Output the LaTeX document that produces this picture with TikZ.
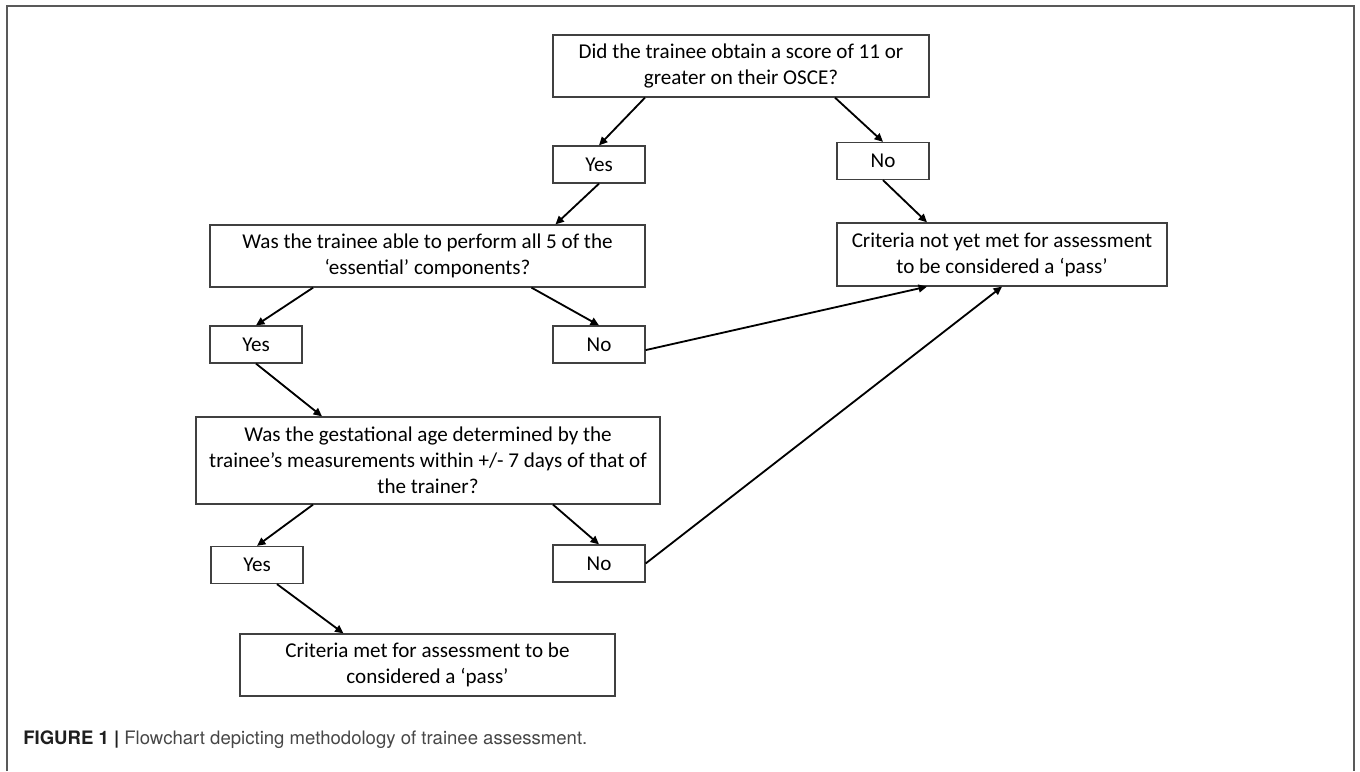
\documentclass[tikz,border=0pt]{standalone}
\usepackage{fontspec}
\setmainfont{Carlito}
\newfontfamily\capfont{TeX Gyre Heros}
\usetikzlibrary{arrows.meta}

\begin{document}
\begin{tikzpicture}[
  box/.style={draw=black!75, line width=0.9pt, align=center, inner sep=0pt,
    font=\fontsize{15}{18.5}\selectfont},
  answer/.style={box, minimum width=2.3cm, minimum height=0.925cm},
  arrow/.style={-{Triangle[length=6pt, width=5.5pt]}, line width=1.3pt}
]
\useasboundingbox (0,0) rectangle (34,19.275);

% Outer frame
\draw[black!65, line width=1.2pt] (0.175,0) |- (33.85,19.125) -- (33.85,0);

% Define nodes
\node[box, minimum width=9.4cm, minimum height=1.55cm] (q1) at (18.525, 17.625)
  {Did the trainee obtain a score of 11 or\\greater on their OSCE?};
\node[answer] (y1) at (14.975, 15.1625) {Yes};
\node[answer] (n1) at (22.075, 15.25) {No};
\node[box, minimum width=10.875cm, minimum height=1.55cm] (q2) at (10.6875, 12.875)
  {Was the trainee able to perform all 5 of the\\‘essential’ components?};
\node[box, minimum width=8.25cm, minimum height=1.575cm] (fail) at (25.05, 12.9125)
  {Criteria not yet met for assessment\\to be considered a ‘pass’};
\node[answer] (y2) at (6.4, 10.6625) {Yes};
\node[answer] (n2) at (14.975, 10.6625) {No};
\node[box, minimum width=11.6cm, minimum height=2.175cm] (q3) at (10.7, 7.7625)
  {Was the gestational age determined by the\\trainee’s measurements within +/- 7 days of that of\\the trainer?};
\node[answer] (y3) at (6.425, 5.15) {Yes};
\node[answer] (n3) at (14.975, 5.1875) {No};
\node[box, minimum width=9.375cm, minimum height=1.55cm] (pass) at (10.6875, 2.65)
  {Criteria met for assessment to be\\considered a ‘pass’};

% Caption
\node[anchor=west, inner sep=0pt, text=black!72, font=\capfont\fontsize{13.2}{16}\selectfont] (cap) at (0.575, 0.775)
  {\textbf{\color{black!88}FIGURE 1 |} Flowchart depicting methodology of trainee assessment.};

% Draw edges
\draw[arrow] ([xshift=-2.4cm]q1.south) -- (y1.north);
\draw[arrow] ([xshift=2.35cm]q1.south) -- (n1.north);
\draw[arrow] (y1.south) -- ([xshift=3.2cm]q2.north);
\draw[arrow] (n1.south) -- ([xshift=-1.875cm]fail.north);
\draw[arrow] ([xshift=-2.86cm]q2.south) -- (y2.north);
\draw[arrow] ([xshift=2.6cm]q2.south) -- (n2.north);
\draw[arrow] ([yshift=-0.14cm]n2.east) -- ([xshift=-1.875cm]fail.south);
\draw[arrow] (y2.south) -- ([xshift=-2.65cm]q3.north);
\draw[arrow] ([xshift=-2.875cm]q3.south) -- (y3.north);
\draw[arrow] ([xshift=3.125cm]q3.south) -- (n3.north);
\draw[arrow] (n3.east) -- (fail.south);
\draw[arrow] ([xshift=0.5cm]y3.south) -- ([xshift=-2.1cm]pass.north);
\end{tikzpicture}
\end{document}
